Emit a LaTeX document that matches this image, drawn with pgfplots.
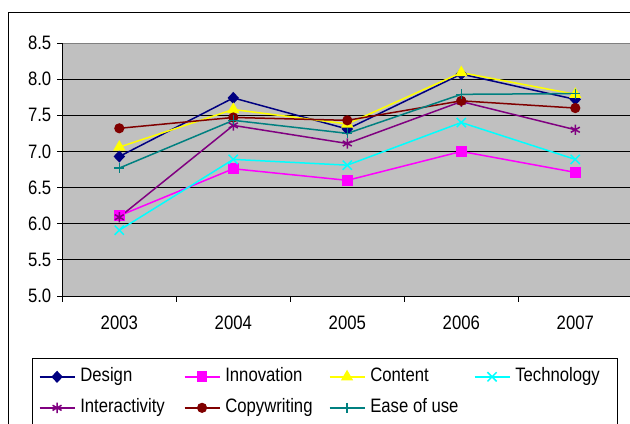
\documentclass[border=0pt]{standalone}
\usepackage{pgfplots}
\pgfplotsset{compat=1.18}
\usepackage{fontspec}
\newfontfamily\chartfont{Liberation Sans}[FakeStretch=0.86]

\definecolor{plotgray}{HTML}{C0C0C0}
\definecolor{bordergray}{HTML}{808080}
\definecolor{cdesign}{HTML}{000080}
\definecolor{cinnov}{HTML}{FF00FF}
\definecolor{ccontent}{HTML}{FFFF00}
\definecolor{ctech}{HTML}{00FFFF}
\definecolor{cinter}{HTML}{800080}
\definecolor{ccopy}{HTML}{800000}
\definecolor{cease}{HTML}{008080}

\newcommand{\ent}[1]{\makebox[95bp][l]{#1}}

\begin{document}
\begin{tikzpicture}
% outer chart frame (runs off the right and bottom edges)
\draw[black, line width=1bp] (8.3bp,411.7bp) rectangle (700bp,-60bp);
\begin{axis}[
  at={(62.3bp,128bp)}, anchor=south west,
  scale only axis, width=570bp, height=253bp,
  xmin=-0.5, xmax=4.5, ymin=5, ymax=8.5,
  axis background/.style={fill=plotgray},
  axis line style={bordergray, line width=0.8bp},
  tick pos=left, tick align=outside,
  major tick length=5bp, minor tick length=5.7bp,
  tick style={black, line width=0.8bp},
  xtick={0,1,2,3,4},
  xticklabels={2003,2004,2005,2006,2007},
  minor xtick={-0.5,0.5,1.5,2.5,3.5,4.5},
  major x tick style={draw=none},
  ytick={5,5.5,6,6.5,7,7.5,8},
  yticklabels={5.0,5.5,6.0,6.5,7.0,7.5,8.0},
  extra y ticks={8.5}, extra y tick labels={8.5},
  extra y tick style={grid=none},
  ymajorgrids, major grid style={black, line width=0.8bp},
  ticklabel style={font=\chartfont\fontsize{19.5}{23}\selectfont},
  xticklabel style={yshift=-11bp},
  yticklabel style={xshift=-2.5bp},
  every axis plot/.append style={line width=1.5bp},
  legend columns=4,
  legend style={at={(axis description cs:-0.0535,-0.246)}, anchor=north west,
    draw=black, line width=0.8bp, fill=white,
    inner xsep=6.6bp, inner ysep=9.7bp, row sep=14bp,
    font=\chartfont\fontsize{19.5}{23}\selectfont,
    nodes={inner sep=0pt, text height=13bp, text depth=4bp},
    /tikz/every odd column/.append style={column sep=5bp},
    /tikz/every even column/.append style={column sep=8.5bp}},
  legend image code/.code={\draw[mark repeat=2,mark phase=2]
    plot coordinates {(0bp,0bp) (17.5bp,0bp) (35bp,0bp)};},
  after end axis/.code={\draw[black, line width=0.8bp]
    (rel axis cs:0,1) -- (rel axis cs:0,0) -- (rel axis cs:1,0);},
]
\addplot[cdesign, mark=diamond*, mark size=5bp, mark options={solid, xscale=1.25}]
  coordinates {(0,6.93) (1,7.74) (2,7.31) (3,8.07) (4,7.72)};
\addlegendentry{\ent{Design}}
\addplot[cinnov, mark=square*, mark size=4.6bp, mark options={solid}]
  coordinates {(0,6.11) (1,6.76) (2,6.60) (3,7.00) (4,6.71)};
\addlegendentry{\ent{Innovation}}
\addplot[ccontent, mark=triangle*, mark size=5.6bp, mark options={solid}]
  coordinates {(0,7.06) (1,7.58) (2,7.38) (3,8.09) (4,7.79)};
\addlegendentry{\ent{Content}}
\addplot[ctech, mark=x, mark size=6.5bp, mark options={solid}]
  coordinates {(0,5.91) (1,6.89) (2,6.81) (3,7.40) (4,6.89)};
\addlegendentry{\ent{Technology}}
\addplot[cinter, mark=asterisk, mark size=5.2bp, mark options={solid}]
  coordinates {(0,6.09) (1,7.36) (2,7.11) (3,7.69) (4,7.30)};
\addlegendentry{\ent{Interactivity}}
\addplot[ccopy, mark=*, mark size=4.3bp, mark options={solid}]
  coordinates {(0,7.32) (1,7.47) (2,7.43) (3,7.70) (4,7.60)};
\addlegendentry{\ent{Copywriting}}
\addplot[cease, mark=+, mark size=5bp, mark options={solid}]
  coordinates {(0,6.77) (1,7.43) (2,7.25) (3,7.79) (4,7.80)};
\addlegendentry{\ent{Ease of use}}
\end{axis}
\pgfresetboundingbox
\useasboundingbox (0,0) rectangle (630bp,424bp);
\end{tikzpicture}
\end{document}
